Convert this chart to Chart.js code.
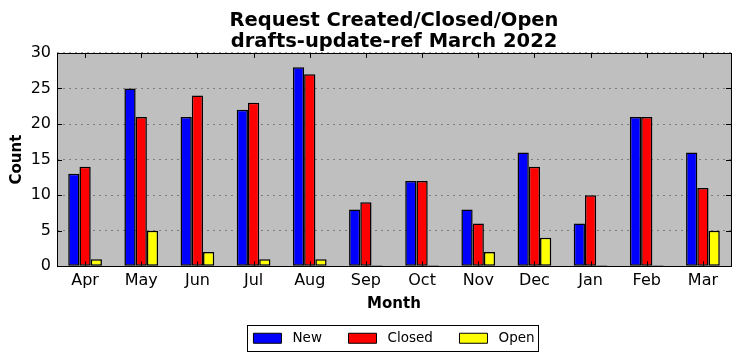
<!DOCTYPE html>
<html>
<head>
<meta charset="utf-8">
<script src="https://cdn.jsdelivr.net/npm/chart.js@4"></script>
<style>
html,body{margin:0;padding:0;background:#fff;}
#wrap{width:741px;height:361px;position:relative;}
</style>
</head>
<body>
<div id="wrap"><canvas id="c"></canvas></div>
<script>
const categories = ['Apr','May','Jun','Jul','Aug','Sep','Oct','Nov','Dec','Jan','Feb','Mar'];
const newVals    = [13,25,21,22,28,8,12,8,16,6,21,16];
const closedVals = [14,21,24,23,27,9,12,6,14,10,21,11];
const openVals   = [1,5,2,1,1,0,0,2,4,0,0,5];
const yTicks     = [0,5,10,15,20,25,30];
const titleLines = ['Request Created/Closed/Open','drafts-update-ref March 2022'];
const seriesNames = ['New','Closed','Open'];

const FONT = '"DejaVu Sans", sans-serif';
const LEG_SIZE = 13.5;

const framePlugin = {
  id: 'frame',
  beforeDraw(chart) {
    const {ctx, chartArea: a} = chart;
    ctx.save();
    ctx.fillStyle = '#bfbfbf';
    ctx.fillRect(a.left, a.top, a.right - a.left, a.bottom - a.top);
    const lg = chart.legend;
    if (lg && lg.legendHitBoxes && lg.legendHitBoxes.length) {
      const hb = lg.legendHitBoxes;
      const first = hb[0], last = hb[hb.length - 1];
      const x0 = first.left - 6;
      const x1 = last.left + last.width + 4;
      const y0 = first.top - 6, y1 = first.top + first.height + 6;
      ctx.fillStyle = '#fff';
      ctx.strokeStyle = '#000';
      ctx.lineWidth = 1;
      const bx = Math.round(x0) + 0.5, by = Math.round(y0) + 0.5;
      const bw = Math.round(x1 - x0), bh = Math.round(y1 - y0);
      ctx.fillRect(bx, by, bw, bh);
      ctx.strokeRect(bx, by, bw, bh);
    }
    ctx.restore();
  },
  afterDraw(chart) {
    const {ctx, chartArea: a, scales} = chart;
    ctx.save();
    ctx.strokeStyle = '#000';
    ctx.lineWidth = 1;
    const L = 5;
    ctx.beginPath();
    yTicks.forEach(v => {
      const y = Math.round(scales.y.getPixelForValue(v)) + 0.5;
      ctx.moveTo(a.left, y); ctx.lineTo(a.left + L, y);
      ctx.moveTo(a.right, y); ctx.lineTo(a.right - L, y);
    });
    categories.forEach((c, i) => {
      const x = Math.round(scales.x.getPixelForValue(i)) + 0.5;
      ctx.moveTo(x, a.bottom); ctx.lineTo(x, a.bottom - L);
      ctx.moveTo(x, a.top); ctx.lineTo(x, a.top + L);
    });
    ctx.stroke();
    ctx.strokeRect(Math.round(a.left) + 0.5, Math.round(a.top) + 0.5,
                   Math.round(a.right - a.left), Math.round(a.bottom - a.top));
    ctx.restore();
  }
};

const ds = (label, data, color) => ({
  label, data,
  backgroundColor: color,
  borderColor: '#000',
  borderWidth: 1.5,
  borderSkipped: false,
  categoryPercentage: 0.6,
  barPercentage: 1.0,
  minBarLength: 1
});

new Chart(document.getElementById('c'), {
  type: 'bar',
  data: {
    labels: categories,
    datasets: [
      ds(seriesNames[0], newVals, '#0000ff'),
      ds(seriesNames[1], closedVals, '#ff0000'),
      ds(seriesNames[2], openVals, '#ffff00')
    ]
  },
  plugins: [framePlugin],
  options: {
    responsive: true,
    maintainAspectRatio: false,
    animation: false,
    layout: { padding: { left: 0, right: 10, top: 0, bottom: 6 } },
    plugins: {
      title: {
        display: true,
        text: titleLines,
        fullSize: false,
        color: '#000',
        font: { family: FONT, size: 19.5, weight: 'bold', lineHeight: 1.1 },
        padding: { top: 10, bottom: 0 }
      },
      legend: {
        display: true,
        position: 'bottom',
        fullSize: false,
        labels: {
          color: '#000',
          font: { family: FONT, size: LEG_SIZE },
          boxWidth: 28,
          boxHeight: 10,
          padding: 18,
          generateLabels(chart) {
            const items = Chart.defaults.plugins.legend.labels.generateLabels(chart);
            items.forEach((it, i) => {
              it.lineWidth = 1;
              it.text = ' ' + it.text + (i < items.length - 1 ? '  ' : '');
            });
            return items;
          }
        }
      },
      tooltip: { enabled: false }
    },
    scales: {
      x: {
        type: 'category',
        offset: true,
        grid: { display: false, drawTicks: false },
        border: { display: false },
        ticks: { color: '#000', font: { family: FONT, size: 16 }, padding: 5, maxRotation: 0 },
        title: {
          display: true, text: 'Month', color: '#000',
          font: { family: FONT, size: 15, weight: 'bold' },
          padding: { top: 0, bottom: 0 }
        }
      },
      y: {
        min: 0, max: 30,
        afterFit(scale) { scale.width = 57; },
        afterBuildTicks(scale) { scale.ticks = yTicks.map(v => ({ value: v })); },
        grid: {
          display: true,
          drawTicks: false,
          color: 'rgba(0,0,0,0.35)',
          lineWidth: 1
        },
        border: { display: false, dash: [2, 4] },
        ticks: { color: '#000', font: { family: FONT, size: 16 }, padding: 6 },
        title: {
          display: true, text: 'Count', color: '#000',
          font: { family: FONT, size: 15, weight: 'bold' },
          padding: { top: 8, bottom: 0 }
        }
      }
    }
  }
});
</script>
</body>
</html>
